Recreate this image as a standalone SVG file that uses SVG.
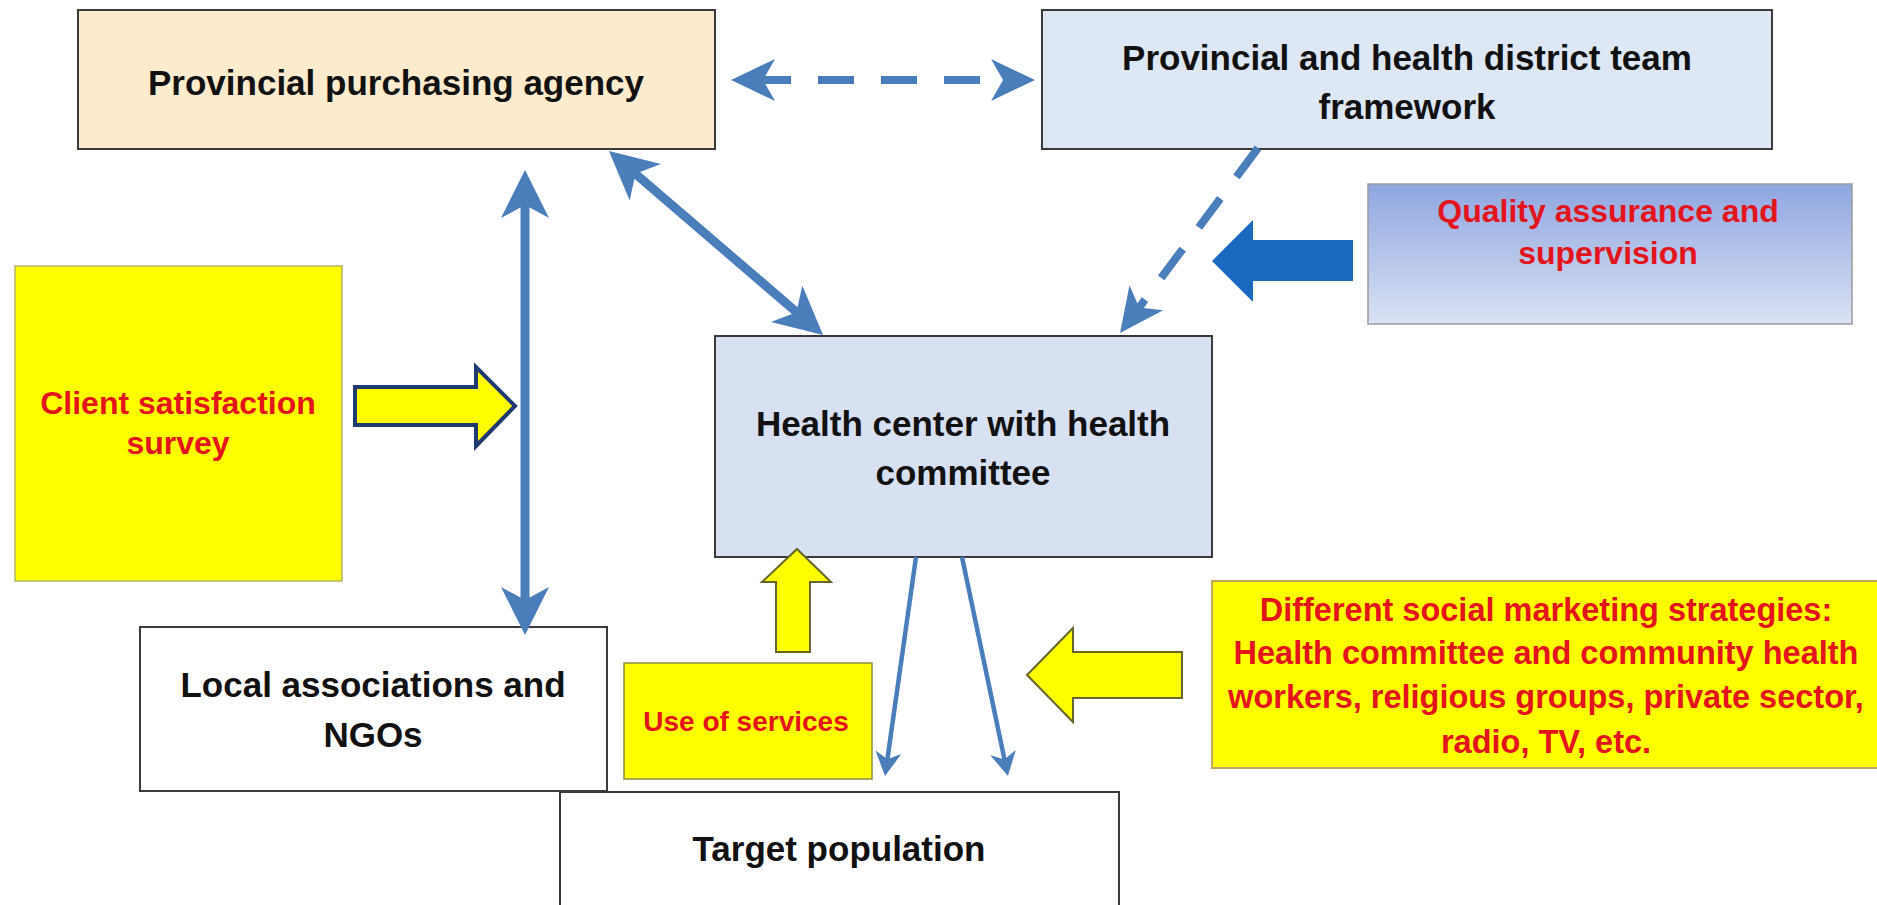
<svg xmlns="http://www.w3.org/2000/svg" width="1877" height="905" viewBox="0 0 1877 905">
<style>
  .box{stroke:#3a3a3a;stroke-width:2}
  .lbl{font-family:"Liberation Sans",Arial,sans-serif;font-weight:bold;font-size:35px;fill:#111;text-anchor:middle}
  .red{font-family:"Liberation Sans",Arial,sans-serif;font-weight:bold;fill:#E3141B;text-anchor:middle}
  .conn{fill:none;stroke:#4A7EBB}
  .thick{stroke-width:9}
  .dash{stroke-width:8;stroke-dasharray:36 27}
  .thin{stroke-width:4.5}
  .yarrow{fill:#FFFF00;stroke:#66662a;stroke-width:2}
</style>
<defs>
  <linearGradient id="qgrad" x1="0" y1="0" x2="0" y2="1">
    <stop offset="0" stop-color="#8FA6E0"/>
    <stop offset="1" stop-color="#DAE2F3"/>
  </linearGradient>
  <marker id="headL" markerUnits="userSpaceOnUse" orient="auto-start-reverse" markerWidth="48" markerHeight="48" refX="18" refY="24" overflow="visible">
    <path d="M0,0 L48,24 L0,48 L13,24 Z" fill="#4A7EBB"/>
  </marker>
  <marker id="headM" markerUnits="userSpaceOnUse" orient="auto-start-reverse" markerWidth="44" markerHeight="42" refX="20" refY="21" overflow="visible">
    <path d="M0,0 L44,21 L0,42 L12,21 Z" fill="#4A7EBB"/>
  </marker>
  <marker id="headS" markerUnits="userSpaceOnUse" orient="auto-start-reverse" markerWidth="24" markerHeight="26" refX="12" refY="13" overflow="visible">
    <path d="M0,0 L24,13 L0,26 L7,13 Z" fill="#4A7EBB"/>
  </marker>
</defs>
<rect width="1877" height="905" fill="#ffffff"/>

<g id="purchasing-agency">
  <rect class="box" x="78" y="10" width="637" height="139" fill="#FCEBCD"/>
  <text class="lbl" x="396" y="95">Provincial purchasing agency</text>
</g>
<g id="district-team">
  <rect class="box" x="1042" y="10" width="730" height="139" fill="#DDE8F4"/>
  <text class="lbl" x="1407" y="70">Provincial and health district team</text>
  <text class="lbl" x="1407" y="119">framework</text>
</g>
<g id="quality-assurance">
  <rect x="1368" y="184" width="484" height="140" fill="url(#qgrad)" stroke="#9a9a9a" stroke-width="1.5"/>
  <text class="red" style="font-size:32px" x="1608" y="222">Quality assurance and</text>
  <text class="red" style="font-size:32px" x="1608" y="264">supervision</text>
</g>
<g id="client-survey">
  <rect x="15" y="266" width="327" height="315" fill="#FFFF00" stroke="#b5b56a" stroke-width="1.5"/>
  <text class="red" style="font-size:32px" x="178" y="414">Client satisfaction</text>
  <text class="red" style="font-size:32px" x="178" y="454">survey</text>
</g>
<g id="health-center">
  <rect class="box" x="715" y="336" width="497" height="221" fill="#D8E1F1"/>
  <text class="lbl" x="963" y="436">Health center with health</text>
  <text class="lbl" x="963" y="485">committee</text>
</g>
<g id="local-associations">
  <rect class="box" x="140" y="627" width="467" height="164" fill="#ffffff"/>
  <text class="lbl" x="373" y="697">Local associations and</text>
  <text class="lbl" x="373" y="747">NGOs</text>
</g>
<g id="target-population">
  <rect class="box" x="560" y="792" width="559" height="130" fill="#ffffff"/>
  <text class="lbl" x="839" y="861">Target population</text>
</g>
<g id="use-of-services">
  <rect x="624" y="663" width="248" height="116" fill="#FFFF00" stroke="#8c8c40" stroke-width="1.5"/>
  <text class="red" style="font-size:28px" x="746" y="731">Use of services</text>
</g>
<g id="social-marketing">
  <rect x="1212" y="581" width="668" height="187" fill="#FFFF00" stroke="#c0a860" stroke-width="2"/>
  <text class="red" style="font-size:32.5px" x="1546" y="621">Different social marketing strategies:</text>
  <text class="red" style="font-size:32.5px" x="1546" y="664">Health committee and community health</text>
  <text class="red" style="font-size:32.5px" x="1546" y="708">workers, religious groups, private sector,</text>
  <text class="red" style="font-size:32.5px" x="1546" y="753">radio, TV, etc.</text>
</g>

<g id="connectors">
  <path class="conn dash" d="M755,80 L1011,80" marker-start="url(#headM)" marker-end="url(#headM)"/>
  <path class="conn dash" d="M1258,148 L1134.4,313.8" marker-end="url(#headM)"/>
  <path class="conn thick" d="M525,200 L525,605" marker-start="url(#headL)" marker-end="url(#headL)"/>
  <path class="conn thick" d="M631.7,170.6 L800.3,315.4" marker-start="url(#headL)" marker-end="url(#headL)"/>
  <path class="conn thin" d="M916,557 L886.7,764.1" marker-end="url(#headS)"/>
  <path class="conn thin" d="M962,557 L1005.5,764.3" marker-end="url(#headS)"/>
  <polygon points="1353,240 1253,240 1253,220 1212,261 1253,302 1253,281 1353,281" fill="#1A6BBF"/>
  <polygon points="355,387 476,387 476,367 515,406 476,446 476,425 355,425" fill="#FFFF00" stroke="#1F3A70" stroke-width="4" stroke-linejoin="miter"/>
  <polygon class="yarrow" points="776,652 776,582 762,582 797,549 831,582 810,582 810,652"/>
  <polygon class="yarrow" points="1182,652 1073,652 1073,628 1027,675 1073,722 1073,698 1182,698"/>
</g>
</svg>
